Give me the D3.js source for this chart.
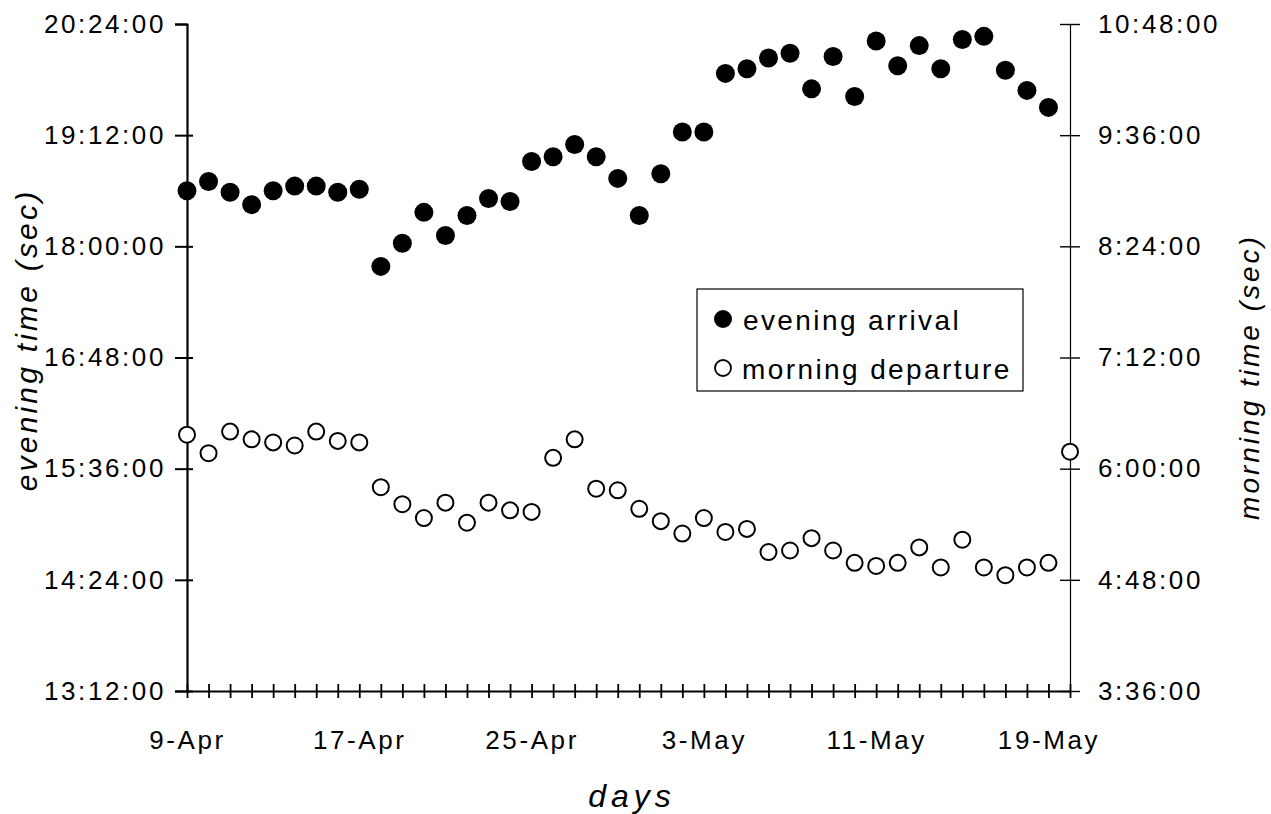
<!DOCTYPE html>
<html>
<head>
<meta charset="utf-8">
<script src="https://cdn.jsdelivr.net/npm/d3@7"></script>
<style>
  body { margin: 0; background: #fff; }
  svg { display: block; }
  text { font-family: Arial, "Liberation Sans", sans-serif; fill: #000; }
</style>
</head>
<body>
<svg id="vis" width="1271" height="814"></svg>
<script>
// data
const firstDay = "2003-04-09";
const lastDay = "2003-05-20";

const eveningArrival = [
  "18:36", "18:42", "18:35", "18:27", "18:36", "18:39", "18:39", "18:35", "18:37", "17:47",
  "18:02", "18:22", "18:07", "18:20", "18:31", "18:29", "18:55", "18:58", "19:06", "18:58",
  "18:44", "18:20", "18:47", "19:14", "19:14", "19:52", "19:55", "20:02", "20:05", "19:42",
  "20:03", "19:37", "20:13", "19:57", "20:10", "19:55", "20:14", "20:16", "19:54", "19:41",
  "19:30"
];

const morningDeparture = [
  "6:22", "6:10", "6:24", "6:19", "6:17", "6:15", "6:24", "6:18", "6:17", "5:48",
  "5:37", "5:28", "5:38", "5:25", "5:38", "5:33", "5:32", "6:07", "6:19", "5:47",
  "5:46", "5:34", "5:26", "5:18", "5:28", "5:19", "5:21", "5:06", "5:07", "5:15",
  "5:07", "4:59", "4:57", "4:59", "5:09", "4:56", "5:14", "4:56", "4:51", "4:56",
  "4:59", "6:11"
];

const eveningTicks = ["13:12", "14:24", "15:36", "16:48", "18:00", "19:12", "20:24"];
const morningTicks = ["3:36", "4:48", "6:00", "7:12", "8:24", "9:36", "10:48"];
const dateLabels = ["9-Apr", "17-Apr", "25-Apr", "3-May", "11-May", "19-May"];

// helpers
const toSec = s => {
  const p = s.split(":").map(Number);
  return p[0] * 3600 + p[1] * 60 + (p[2] || 0);
};
const fmtTime = v => {
  const h = Math.floor(v / 3600), m = Math.floor((v % 3600) / 60), s = v % 60;
  return h + ":" + String(m).padStart(2, "0") + ":" + String(s).padStart(2, "0");
};
const parseDay = d3.utcParse("%Y-%m-%d");
const fmtDay = d3.utcFormat("%-d-%b");

const days = d3.utcDay.range(parseDay(firstDay), d3.utcDay.offset(parseDay(lastDay), 1));

const plotLeft = 187, plotRight = 1070, plotTop = 24, plotBottom = 691;

const svg = d3.select("#vis");

const x = d3.scaleUtc()
  .domain([days[0], days[days.length - 1]])
  .range([plotLeft, plotRight]);

const yEve = d3.scaleLinear()
  .domain([toSec(eveningTicks[0]), toSec(eveningTicks[eveningTicks.length - 1])])
  .range([plotBottom, plotTop]);

const yMor = d3.scaleLinear()
  .domain([toSec(morningTicks[0]), toSec(morningTicks[morningTicks.length - 1])])
  .range([plotBottom, plotTop]);

const tickFont = g => g.attr("font-size", 26).attr("letter-spacing", 2.6)
  .attr("font-family", "Arial, 'Liberation Sans'");

// left axis
const gL = svg.append("g")
  .attr("transform", `translate(${plotLeft},0)`)
  .call(d3.axisLeft(yEve).tickValues(eveningTicks.map(toSec)).tickFormat(fmtTime).tickSize(12).tickPadding(9));
gL.select(".domain").attr("stroke-width", 2.2);
gL.selectAll(".tick line").attr("stroke-width", 2).attr("x2", -12).attr("x1", 6);
gL.selectAll(".tick text").call(tickFont);
gL.selectAll(".tick:last-of-type line").attr("x1", 0);

// right axis
const gR = svg.append("g")
  .attr("transform", `translate(${plotRight},0)`)
  .call(d3.axisRight(yMor).tickValues(morningTicks.map(toSec)).tickFormat(fmtTime).tickSize(10).tickPadding(18));
gR.select(".domain").attr("stroke-width", 1.2);
gR.selectAll(".tick line").attr("stroke-width", 1.4).attr("x1", -10);
gR.selectAll(".tick text").call(tickFont);

// bottom axis: one tick a day
const gX = svg.append("g")
  .attr("transform", `translate(0,${plotBottom})`)
  .call(d3.axisBottom(x).tickValues(days).tickFormat("").tickSize(7).tickSizeOuter(0));
gX.select(".domain").attr("stroke-width", 2);
gX.selectAll(".tick line").attr("y1", -7).attr("stroke-width", 1.8);

// date labels every 8 days
svg.append("g")
  .attr("transform", `translate(0,${plotBottom})`)
  .call(d3.axisBottom(x)
    .tickValues(days.filter(d => dateLabels.includes(fmtDay(d))))
    .tickFormat(fmtDay).tickSize(0).tickPadding(40))
  .call(g => g.select(".domain").remove())
  .selectAll("text")
  .call(tickFont);

// axis titles
svg.append("text")
  .attr("transform", "translate(37,340) rotate(-90)")
  .attr("text-anchor", "middle")
  .attr("font-size", 30).attr("font-style", "italic").attr("letter-spacing", 3.2)
  .text("evening time (sec)");

svg.append("text")
  .attr("transform", "translate(1259,377) rotate(-90)")
  .attr("text-anchor", "middle")
  .attr("font-size", 28).attr("font-style", "italic").attr("letter-spacing", 3)
  .text("morning time (sec)");

svg.append("text")
  .attr("x", 632).attr("y", 807)
  .attr("text-anchor", "middle")
  .attr("font-size", 32).attr("font-style", "italic").attr("letter-spacing", 5)
  .text("days");

// points
svg.append("g").selectAll("circle")
  .data(morningDeparture)
  .join("circle")
  .attr("cx", (d, i) => x(days[i]))
  .attr("cy", d => yMor(toSec(d)))
  .attr("r", 8)
  .attr("fill", "#fff")
  .attr("stroke", "#000")
  .attr("stroke-width", 2);

svg.append("g").selectAll("circle")
  .data(eveningArrival)
  .join("circle")
  .attr("cx", (d, i) => x(days[i]))
  .attr("cy", d => yEve(toSec(d)))
  .attr("r", 9.5)
  .attr("fill", "#000");

// legend
const lg = svg.append("g").attr("transform", "translate(697,289)");
lg.append("rect")
  .attr("width", 326).attr("height", 102)
  .attr("fill", "#fff").attr("stroke", "#000").attr("stroke-width", 1.2);
lg.append("circle").attr("cx", 26).attr("cy", 30).attr("r", 9).attr("fill", "#000");
lg.append("circle").attr("cx", 26).attr("cy", 79).attr("r", 8)
  .attr("fill", "#fff").attr("stroke", "#000").attr("stroke-width", 1.8);
lg.append("text").attr("x", 46).attr("y", 41)
  .attr("font-size", 28).attr("letter-spacing", 2.4).text("evening arrival");
lg.append("text").attr("x", 45).attr("y", 90)
  .attr("font-size", 28).attr("letter-spacing", 2.4).text("morning departure");
</script>
</body>
</html>
